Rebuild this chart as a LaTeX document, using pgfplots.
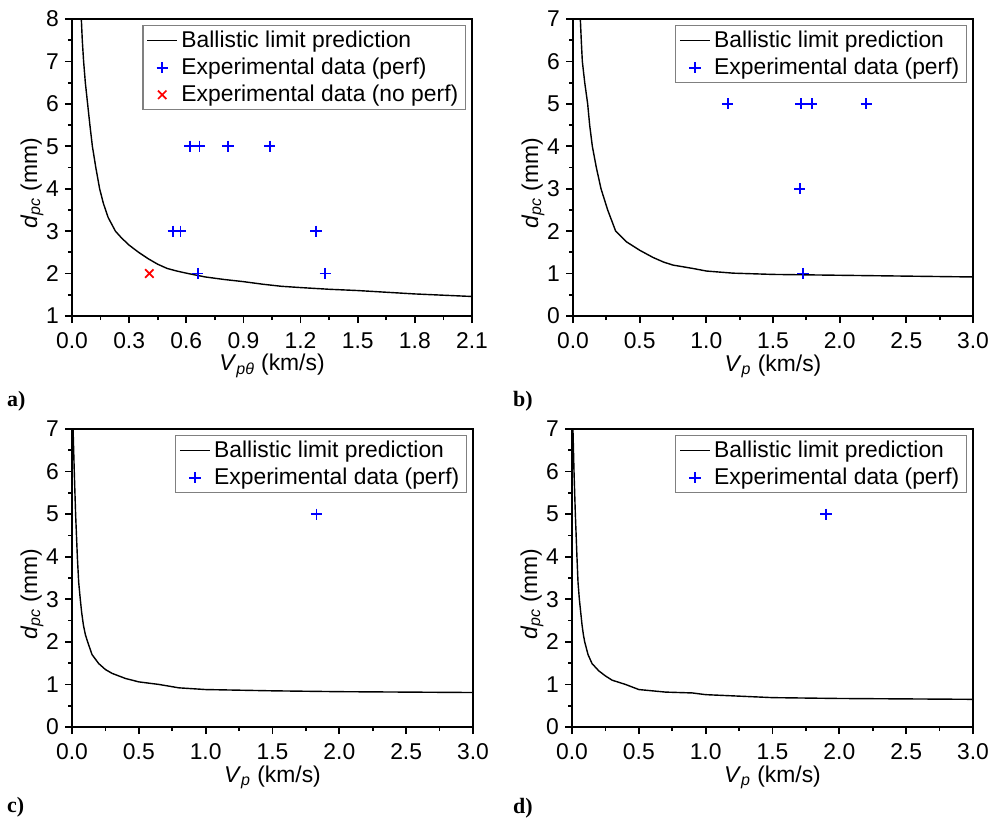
\documentclass[border=0pt]{standalone}
\usepackage{fontspec}
\setmainfont{Liberation Sans}
\newfontfamily\panelfont{Liberation Serif}
\usepackage{pgfplots}
\pgfplotsset{compat=1.18}

\pgfplotsset{
  panel/.style={
    scale only axis, width=8cm, height=5.94cm,
    axis line style={line width=1.1pt},
    tick align=outside, tick pos=left,
    major tick length=0.14cm, minor tick length=0.08cm,
    every tick/.style={black, line width=1pt},
    minor x tick num=1, minor y tick num=1,
    ticklabel style={font=\fontsize{13}{15}\selectfont},
    /pgf/number format/assume math mode=true,
    xticklabel style={yshift=-2pt, /pgf/number format/.cd, fixed, fixed zerofill, precision=1},
    label style={font=\fontsize{13}{15}\selectfont},
    xlabel style={at={(rel axis cs:0.5,0)}, anchor=center, yshift=-1.0cm},
    ylabel style={at={(rel axis cs:0,0.446)}, anchor=center, yshift=0.8cm},
    ylabel={\textit{d}\textsubscript{\textit{pc}} (mm)},
    legend style={at={(rel axis cs:1,1)}, anchor=north east,
      xshift=-0.12cm, yshift=-0.12cm, draw=gray, line width=0.8pt,
      font=\fontsize{13}{15}\selectfont, row sep=0.5pt, inner xsep=2pt, inner ysep=1pt},
    legend cell align=left,
  },
  curve/.style={black, line width=0.8pt, mark=none},
  perf/.style={only marks, mark=+, color=blue, mark size=3.2pt,
    mark options={draw=blue, line width=1pt}},
  noperf/.style={only marks, mark=x, color=red, mark size=3.4pt,
    mark options={draw=red, line width=1pt}},
}

\begin{document}
\begin{tikzpicture}
\path[use as bounding box] (0,0) rectangle (19.8cm,16.38cm);

% a)
\begin{axis}[panel, at={(1.44cm,10.06cm)}, anchor=south west,
  xmin=0, xmax=2.1, ymin=1, ymax=8,
  xtick={0,0.3,...,2.1}, ytick={1,...,8},
  xlabel={\textit{V}\textsubscript{\textit{pθ}} (km/s)}]
\addplot[curve] coordinates {(0.045,8.6) (0.049,8) (0.054,7.5) (0.061,7) (0.07,6.5)
  (0.082,6) (0.094,5.5) (0.107,5) (0.125,4.5) (0.145,4) (0.165,3.65) (0.19,3.32)
  (0.228,3) (0.26,2.84) (0.3,2.67) (0.35,2.5) (0.4,2.35) (0.45,2.22) (0.5,2.12)
  (0.55,2.06) (0.6,2.01) (0.7,1.92) (0.8,1.86) (0.9,1.81) (1.0,1.75) (1.1,1.7)
  (1.2,1.67) (1.35,1.63) (1.5,1.6) (1.65,1.56) (1.8,1.52) (1.95,1.49) (2.1,1.46)};
\addlegendentry{Ballistic limit prediction}
\addplot[perf] coordinates {(0.618,5) (0.669,5) (0.819,5) (1.038,5)
  (0.532,3) (0.569,3) (1.281,3) (0.66,2) (1.33,2)};
\addlegendentry{Experimental data (perf)}
\addplot[noperf] coordinates {(0.406,2)};
\addlegendentry{Experimental data (no perf)}
\end{axis}

% b)
\begin{axis}[panel, at={(11.46cm,10.06cm)}, anchor=south west,
  xmin=0, xmax=3, ymin=0, ymax=7,
  xtick={0,0.5,...,3}, ytick={0,...,7},
  xlabel={\textit{V}\textsubscript{\textit{p}} (km/s)}]
\addplot[curve] coordinates {(0.05,7.5) (0.055,7) (0.062,6.5) (0.07,6) (0.088,5.5)
  (0.11,5) (0.125,4.5) (0.145,4) (0.175,3.5) (0.21,3) (0.26,2.5) (0.32,2)
  (0.4,1.75) (0.5,1.55) (0.6,1.38) (0.68,1.27) (0.75,1.2) (0.9,1.12) (1.0,1.06)
  (1.2,1.01) (1.5,0.98) (2.0,0.96) (2.5,0.94) (3.0,0.92)};
\addlegendentry{Ballistic limit prediction}
\addplot[perf] coordinates {(1.16,5) (1.71,5) (1.79,5) (2.2,5) (1.70,3) (1.725,1)};
\addlegendentry{Experimental data (perf)}
\end{axis}

% c)
\begin{axis}[panel, at={(1.44cm,1.84cm)}, anchor=south west, width=8.02cm, height=5.96cm,
  xmin=0, xmax=3, ymin=0, ymax=7,
  xtick={0,0.5,...,3}, ytick={0,...,7},
  xlabel={\textit{V}\textsubscript{\textit{p}} (km/s)}]
\addplot[curve] coordinates {(0.006,7.5) (0.008,7) (0.017,6) (0.027,5) (0.04,4)
  (0.05,3.4) (0.062,3) (0.072,2.7) (0.085,2.4) (0.1,2.17) (0.117,2) (0.15,1.7)
  (0.2,1.49) (0.25,1.35) (0.3,1.26) (0.4,1.14) (0.5,1.06) (0.65,1.0) (0.8,0.92)
  (1.0,0.88) (1.5,0.85) (2.0,0.83) (3.0,0.81)};
\addlegendentry{Ballistic limit prediction}
\addplot[perf] coordinates {(1.83,5)};
\addlegendentry{Experimental data (perf)}
\end{axis}

% d)
\begin{axis}[panel, at={(11.44cm,1.84cm)}, anchor=south west, width=8.02cm, height=5.96cm,
  xmin=0, xmax=3, ymin=0, ymax=7,
  xtick={0,0.5,...,3}, ytick={0,...,7},
  xlabel={\textit{V}\textsubscript{\textit{p}} (km/s)}]
\addplot[curve] coordinates {(0.005,7.5) (0.007,7) (0.015,6) (0.025,5) (0.037,4)
  (0.045,3.4) (0.055,3) (0.065,2.7) (0.075,2.4) (0.085,2.17) (0.095,2) (0.12,1.7)
  (0.15,1.49) (0.2,1.32) (0.25,1.2) (0.3,1.1) (0.4,1.0) (0.5,0.88) (0.7,0.82)
  (0.9,0.8) (1.0,0.76) (1.5,0.69) (2.0,0.67) (3.0,0.65)};
\addlegendentry{Ballistic limit prediction}
\addplot[perf] coordinates {(1.90,5)};
\addlegendentry{Experimental data (perf)}
\end{axis}

\node[anchor=west, font=\panelfont\bfseries\fontsize{12.5}{14}\selectfont] at (0.02cm,8.36cm) {a)};
\node[anchor=west, font=\panelfont\bfseries\fontsize{12.5}{14}\selectfont] at (10.14cm,8.36cm) {b)};
\node[anchor=west, font=\panelfont\bfseries\fontsize{12.5}{14}\selectfont] at (0.02cm,0.24cm) {c)};
\node[anchor=west, font=\panelfont\bfseries\fontsize{12.5}{14}\selectfont] at (10.14cm,0.22cm) {d)};
\end{tikzpicture}
\end{document}
